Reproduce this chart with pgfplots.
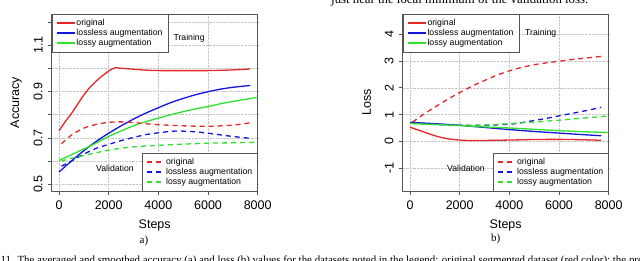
\documentclass[border=0pt]{standalone}
\usepackage{pgfplots}
\pgfplotsset{compat=1.18}
\usepackage{fontspec}
\setmainfont{Liberation Sans}
\newfontfamily\capfont{Liberation Serif}
\definecolor{rred}{RGB}{228,40,40}
\definecolor{rblue}{RGB}{20,20,225}
\definecolor{rgreen}{RGB}{45,225,45}
\definecolor{boxgray}{RGB}{85,85,85}
\newcommand{\legfont}{\fontsize{8.7}{9}\selectfont}
\newcommand{\tickfont}{\fontsize{12.5}{14}\selectfont}
\pgfplotsset{
  panel/.style={
    scale only axis, width=206pt, height=177pt,
    xmin=-295, xmax=8000,
    xtick={0,2000,4000,6000,8000},
    xtick pos=bottom, ytick pos=left,
    tick align=outside, major tick length=4pt,
    axis line style={draw=boxgray, line width=0.6pt},
    every tick/.style={draw=boxgray, line width=0.6pt},
    grid=major, grid style={densely dotted, line width=0.5pt, black!22},
    tick label style={font=\tickfont},
    /pgf/number format/assume math mode=true,
    /pgf/number format/set thousands separator={},
    xticklabel style={anchor=north, inner sep=0pt, yshift=-6pt},
    yticklabel style={xshift=-5pt, rotate=90, anchor=south, inner sep=0pt},
    label style={font=\tickfont},
    xlabel={Steps},
    xlabel style={at={(axis description cs:0.5,-0.193)}, anchor=center},
    legend cell align=left,
    legend image code/.code={\draw[##1] (0pt,0pt) -- (18pt,0pt);},
  },
  overlay/.style={
    scale only axis, width=206pt, height=177pt,
    xmin=-295, xmax=8000, hide axis,
    legend cell align=left,
    legend image code/.code={\draw[##1] (0pt,0pt) -- (17pt,0pt);},
  },
  toplegend/.style={legend style={at={(0,1)}, anchor=north west, draw=boxgray, fill=white,
    font=\legfont, inner xsep=4pt, inner ysep=3.5pt, row sep=-0.3pt,
    nodes={inner sep=1.3pt}}},
  botlegend/.style={legend style={at={(1,0)}, anchor=south east, draw=boxgray, fill=white,
    font=\legfont, inner xsep=4pt, inner ysep=3.5pt, row sep=-0.3pt,
    nodes={inner sep=1.3pt}}},
  trn/.style={line width=1.3pt, smooth},
  val/.style={line width=1.3pt, smooth, dash pattern=on 5pt off 4pt},
}
\begin{document}
\begin{tikzpicture}[x=1pt,y=1pt]
\useasboundingbox (0,0) rectangle (640,260);
\clip (0,0) rectangle (640,260);

% ---------- panel a) accuracy ----------
\begin{axis}[panel, toplegend, at={(51.7pt,69pt)}, anchor=south west,
  ymin=0.471, ymax=1.234,
  ytick={0.5,0.6,0.7,0.8,0.9,1.0,1.1,1.2},
  yticklabels={0.5,{},0.7,{},0.9,{},1.1,{}},
  ylabel={Accuracy},
  ylabel style={at={(axis description cs:-0.173,0.5)}, anchor=center}]
\addplot[trn, rred] coordinates {(0,0.73) (250,0.77) (500,0.805) (750,0.845) (1000,0.885) (1250,0.918) (1500,0.945) (1750,0.968) (2000,0.988) (2250,1.002) (2500,1.0) (3000,0.996) (3500,0.992) (4000,0.99) (5000,0.99) (6000,0.99) (7000,0.993) (7700,0.997)};
\addplot[trn, rblue] coordinates {(0,0.553) (500,0.60) (1000,0.645) (1500,0.685) (2000,0.72) (2500,0.752) (3000,0.781) (3500,0.807) (4000,0.83) (4500,0.852) (5000,0.87) (5500,0.886) (6000,0.899) (6500,0.91) (7000,0.918) (7700,0.926)};
\addplot[trn, rgreen] coordinates {(0,0.603) (500,0.627) (1000,0.652) (1500,0.678) (2000,0.706) (2500,0.73) (3000,0.752) (3500,0.77) (4000,0.785) (4500,0.8) (5000,0.813) (5500,0.825) (6000,0.835) (6500,0.847) (7000,0.857) (7500,0.866) (8000,0.875)};
\legend{original, lossless augmentation, lossy augmentation}
\node[font=\legfont] at (rel axis cs:0.667,0.864) {Training};
\end{axis}
\begin{axis}[overlay, botlegend, at={(51.7pt,69pt)}, anchor=south west,
  ymin=0.471, ymax=1.234]
\addplot[val, rred] coordinates {(100,0.675) (500,0.712) (1000,0.742) (1500,0.758) (2000,0.767) (2500,0.769) (3000,0.766) (3500,0.761) (4000,0.757) (5000,0.752) (6000,0.75) (7000,0.755) (7700,0.765)};
\addplot[val, rblue] coordinates {(100,0.578) (500,0.60) (1000,0.63) (1500,0.655) (2000,0.672) (2500,0.688) (3000,0.702) (3500,0.714) (4000,0.722) (4500,0.728) (4800,0.73) (5000,0.729) (5500,0.726) (6000,0.72) (6500,0.713) (7000,0.706) (7700,0.698)};
\addplot[val, rgreen] coordinates {(100,0.60) (500,0.612) (1000,0.624) (1500,0.636) (2000,0.647) (2500,0.655) (3000,0.661) (3500,0.665) (4000,0.668) (5000,0.673) (6000,0.677) (7000,0.679) (8000,0.681)};
\legend{original, lossless augmentation, lossy augmentation}
\node[font=\legfont] at (rel axis cs:0.307,0.13) {Validation};
\end{axis}

% ---------- panel b) loss ----------
\begin{axis}[panel, toplegend, at={(402.7pt,69pt)}, anchor=south west,
  ymin=-1.85, ymax=4.75,
  ytick={-1,0,1,2,3,4},
  yticklabels={-1,0,1,2,3,4},
  ylabel={Loss},
  ylabel style={at={(axis description cs:-0.175,0.5)}, anchor=center}]
\addplot[trn, rred] coordinates {(0,0.53) (500,0.37) (1000,0.21) (1500,0.1) (2000,0.05) (2500,0.03) (3000,0.035) (4000,0.05) (5000,0.07) (6000,0.075) (7000,0.06) (7700,0.04)};
\addplot[trn, rblue] coordinates {(0,0.71) (1000,0.66) (2000,0.6) (3000,0.52) (4000,0.44) (5000,0.37) (6000,0.31) (7000,0.25) (7700,0.21)};
\addplot[trn, rgreen] coordinates {(0,0.67) (1000,0.63) (2000,0.59) (3000,0.54) (4000,0.5) (5000,0.45) (6000,0.40) (7000,0.36) (8000,0.33)};
\legend{original, lossless augmentation, lossy augmentation}
\node[font=\legfont] at (rel axis cs:0.67,0.892) {Training};
\end{axis}
\begin{axis}[overlay, botlegend, at={(402.7pt,69pt)}, anchor=south west,
  ymin=-1.85, ymax=4.75]
\addplot[val, rred] coordinates {(100,0.72) (500,0.98) (1000,1.28) (1500,1.56) (2000,1.82) (2500,2.06) (3000,2.27) (3500,2.47) (4000,2.63) (4500,2.76) (5000,2.86) (5500,2.93) (6000,2.99) (6500,3.05) (7000,3.1) (7700,3.17)};
\addplot[val, rblue] coordinates {(100,0.71) (1000,0.64) (2000,0.6) (3000,0.6) (4000,0.64) (4500,0.7) (5000,0.78) (5500,0.86) (6000,0.95) (6500,1.04) (7000,1.13) (7700,1.27)};
\addplot[val, rgreen] coordinates {(100,0.67) (1000,0.63) (2000,0.6) (3000,0.61) (4000,0.66) (5000,0.72) (6000,0.79) (7000,0.87) (8000,0.95)};
\legend{original, lossless augmentation, lossy augmentation}
\node[font=\legfont] at (rel axis cs:0.307,0.125) {Validation};
\end{axis}

% ---------- caption fragments ----------
\node[font=\capfont\fontsize{11}{13}\selectfont, anchor=center] at (144,19) {a)};
\node[font=\capfont\fontsize{11}{13}\selectfont, anchor=center] at (495.7,21) {b)};
\node[font=\capfont\fontsize{10.9}{12}\selectfont, anchor=base west, inner sep=0pt] at (0.5,-3.9)
  {11. The averaged and smoothed accuracy (a) and loss (b) values for the datasets noted in the legend: original segmented dataset (red color); the previous};
\node[font=\capfont\fontsize{12.8}{14}\selectfont, anchor=base west, inner sep=0pt] at (331,256)
  {just near the local minimum of the validation loss.};
\end{tikzpicture}
\end{document}
